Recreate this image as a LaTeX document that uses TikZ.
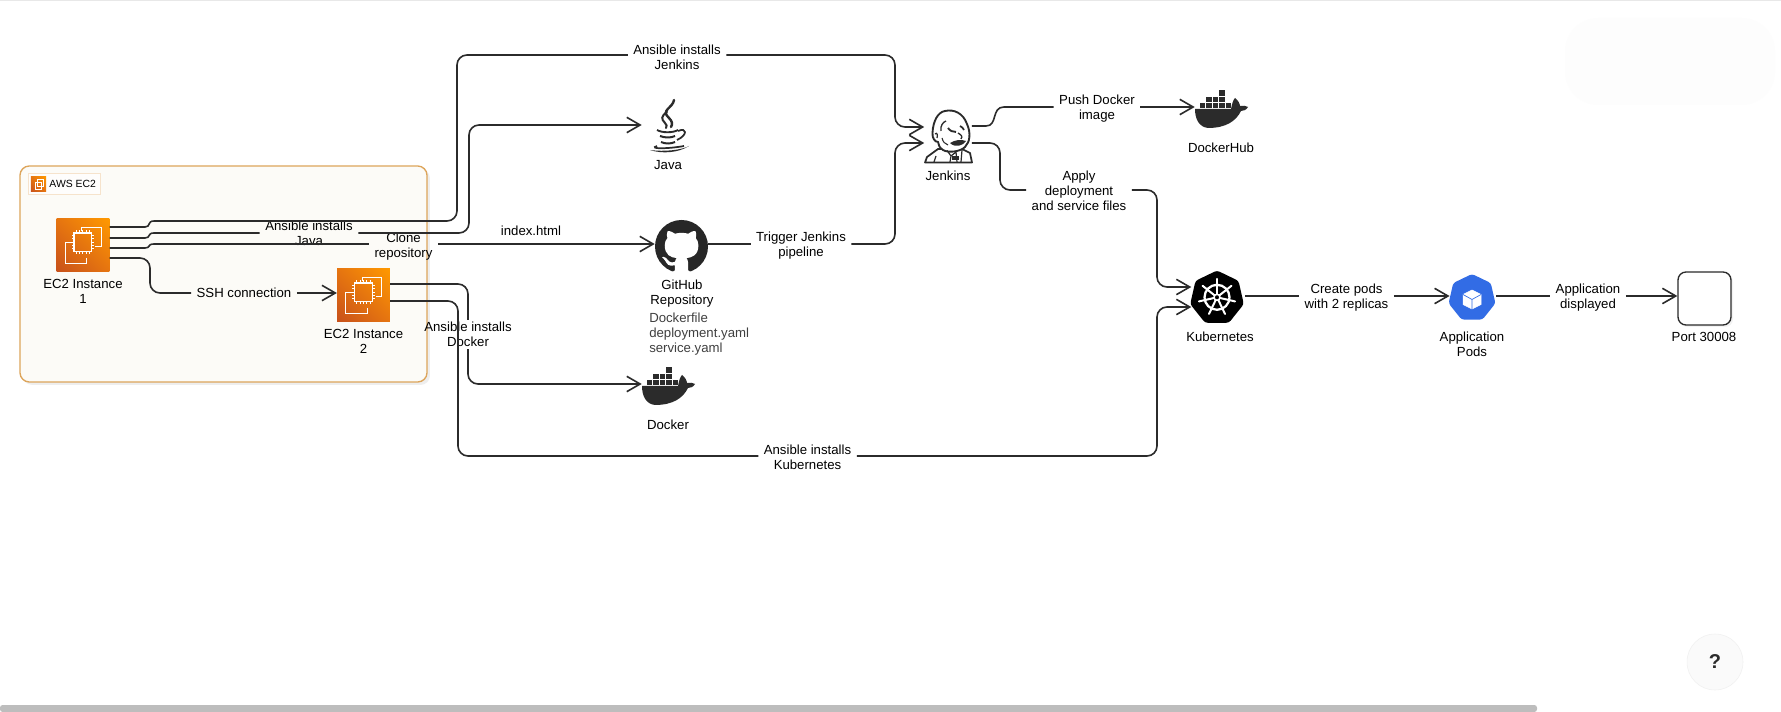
\documentclass[tikz,border=0pt]{standalone}
\usepackage{fontspec}
\setmainfont{Liberation Sans}
\usepackage{tikz}
\usetikzlibrary{arrows.meta,shadows,shadings,shapes.geometric}
\definecolor{awsdark}{HTML}{C8511B}
\definecolor{awslight}{HTML}{FF9900}
\definecolor{awsmid}{HTML}{E67510}
\definecolor{groupline}{HTML}{DDA55B}
\definecolor{groupfill}{HTML}{FCFBF7}
\definecolor{tagline}{HTML}{F6E3CC}
\definecolor{inkdark}{HTML}{2B2B2B}
\definecolor{podblue}{HTML}{326CE5}
\definecolor{scrollgrey}{HTML}{BDBDBD}
\tikzset{
  txt/.style={ inner sep=0, align=center, font=\fontsize{9.9}{11.25}\selectfont }
}
\tikzset{
  lbl/.style={ txt, inner xsep=4pt, inner ysep=1.5pt }
}
\tikzset{
  conn/.style={ draw=inkdark, line width=1.2pt, rounded corners=7.5pt }
}
\tikzset{
  jogconn/.style={ draw=inkdark, line width=1.2pt, sharp corners }
}
\tikzset{
  arrowconn/.style={ conn, -{Straight Barb[length=10pt,width=11.5pt,line width=1.2pt]} }
}
\tikzset{
  ec2box/.style={ inner sep=0, minimum size=39.5pt, shade, lower left=awsdark, upper right=awslight, lower right=awsmid, upper left=awsmid }
}
\tikzset{
  iconbox/.style={ inner sep=0, minimum size=39pt }
}
\tikzset{
  ec2icon/.pic={
    \draw[white, line width=.7pt] (-1.3,-13.5) -- (-1.3,-18) -- (18,-18) -- (18,1.3) -- (12,1.3);
    \draw[white, line width=.7pt] (-11,-3) -- (-18,-3) -- (-18,18) -- (3.7,18) -- (3.7,13);
    \draw[white, line width=.9pt] (-9,-12) rectangle (8.7,6.3);
    \foreach \p [evaluate=\p as \q using \p-2.85] in {-7,-3.6,-0.2,3.2,6.6} {
      \draw[white, line width=.5pt] (\p,-12) -- (\p,-14.5) (\p,6.3) -- (\p,8.8);
      \draw[white, line width=.5pt] (-9,\q) -- (-11.5,\q) (8.7,\q) -- (11.2,\q);
    }
  }
}
\tikzset{
  whaleicon/.pic={
    \fill[inkdark] (-26,2) -- (10,2) .. controls (11,-3) and (12,-7) .. (14,-9)
      .. controls (17,-7) and (19,-3) .. (19,-1) .. controls (22,-2) and (25,-1) .. (27,0)
      .. controls (25,3) and (23,4) .. (20,4) .. controls (15,14) and (5,21) .. (-13,21)
      .. controls (-22,20) and (-26,12) .. (-26,2) -- cycle;
    \foreach \xx in {-21,-14.6,-8.2,-1.8,4.6} { \fill[inkdark] (\xx,-4) rectangle ++(5.4,5); }
    \foreach \xx in {-14.6,-8.2,-1.8} { \fill[inkdark] (\xx,-10.4) rectangle ++(5.4,5.4); }
    \fill[inkdark] (-1.8,-16.8) rectangle ++(5.4,5.4);
  }
}
\tikzset{
  javaicon/.pic={
    \draw[inkdark, line width=1.8pt, line cap=round] (6,-25) .. controls (5,-17) and (-8,-15) .. (1,-7) .. controls (4,-4) and (5,-1) .. (3,2);
    \draw[inkdark, line width=1.5pt, line cap=round] (-1,-13) .. controls (-7,-9) and (-7,-6) .. (-3,-2) .. controls (-1,0) and (-1,1) .. (-2,3);
    \draw[inkdark, line width=1.4pt] (-11,5) .. controls (-6,8) and (5,8) .. (10,5);
    \draw[inkdark, line width=1.3pt] (10,6) .. controls (19,2) and (20,10) .. (9,15);
    \draw[inkdark, line width=1.5pt] (-8,11) .. controls (-3,13) and (3,13) .. (7,11);
    \draw[inkdark, line width=1.5pt] (-7,17) .. controls (-3,19) and (3,19) .. (7,17);
    \draw[inkdark, line width=1.3pt] (-11,21) .. controls (-20,24) and (0,24) .. (16,21);
    \fill[inkdark] (-18,25) .. controls (-6,29) and (10,28) .. (21,21) .. controls (14,25) and (-4,27) .. (-18,25) -- cycle;
  }
}
\tikzset{
  catmask/.pic={
    \begin{scope}[scale=3.3, shift={(-8,-8)}]
      \fill[white] (5.47,15.59) .. controls (5.87,15.66) and (6.02,15.42) .. (6.02,15.21)
        .. controls (6.02,15.02) and (6.01,14.39) .. (6.01,13.72)
        .. controls (4.0,14.09) and (3.48,13.23) .. (3.32,12.78)
        .. controls (3.23,12.55) and (2.84,11.84) .. (2.5,11.65)
        .. controls (2.22,11.5) and (1.82,11.13) .. (2.49,11.12)
        .. controls (3.12,11.11) and (3.57,11.7) .. (3.72,11.94)
        .. controls (4.44,13.15) and (5.59,12.81) .. (6.05,12.6)
        .. controls (6.12,12.08) and (6.33,11.73) .. (6.56,11.53)
        .. controls (4.78,11.33) and (2.92,10.64) .. (2.92,7.58)
        .. controls (2.92,6.71) and (3.23,5.99) .. (3.74,5.43)
        .. controls (3.66,5.23) and (3.38,4.41) .. (3.82,3.31)
        .. controls (3.82,3.31) and (4.49,3.10) .. (6.02,4.13)
        .. controls (6.66,3.95) and (7.34,3.86) .. (8.02,3.86)
        .. controls (8.7,3.86) and (9.38,3.95) .. (10.02,4.13)
        .. controls (11.55,3.09) and (12.22,3.31) .. (12.22,3.31)
        .. controls (12.66,4.41) and (12.38,5.23) .. (12.30,5.43)
        .. controls (12.81,5.99) and (13.12,6.7) .. (13.12,7.58)
        .. controls (13.12,10.65) and (11.25,11.33) .. (9.47,11.53)
        .. controls (9.76,11.78) and (10.01,12.26) .. (10.01,13.01)
        .. controls (10.01,14.08) and (10,14.94) .. (10,15.21)
        .. controls (10,15.42) and (10.15,15.67) .. (10.55,15.59)
        -- (10.55,16.2) -- (5.47,16.2) -- cycle;
    \end{scope}
  }
}
\tikzset{
  butlericon/.pic={
    % shoulders first, the head sits on top
    \filldraw[fill=white, draw=inkdark, line width=1.3pt, line join=round] (-10,13) -- (-21,21) -- (-23,26.5) -- (24,26.5) -- (22,17) -- (14,13) -- cycle;
    \filldraw[fill=white, draw=inkdark, line width=1.4pt] (-15.5,-3) .. controls (-15,-15) and (-10,-24) .. (-3,-25) .. controls (6,-27) and (15,-23) .. (19,-12)
      .. controls (23,-3) and (22,6) .. (17,11) .. controls (12,16) and (0,17) .. (-5,14) .. controls (-8,12) and (-10,9) .. (-10,6) .. controls (-13,6) and (-16,2) .. (-15.5,-3) -- cycle;
    \draw[inkdark, line width=.9pt] (-13,-2) .. controls (-11,-4) and (-10,-1) .. (-11,2);
    \draw[inkdark, line width=1pt] (-7,-5) .. controls (-8,-10) and (-5,-14) .. (-2,-15);
    \draw[inkdark, line width=1.4pt] (0,-8) .. controls (2,-5) and (5,-4) .. (8,-4);
    \draw[inkdark, line width=1.3pt] (12,-10) .. controls (14,-9) and (15,-8) .. (16,-6);
    \draw[inkdark, line width=1pt] (10,-3) .. controls (13,-1) and (15,0) .. (13,3);
    \draw[inkdark, line width=.8pt] (-6,2) .. controls (-5,6) and (-3,8) .. (0,9);
    \fill[inkdark] (2,7) .. controls (7,4) and (13,3) .. (18,5) .. controls (15,10) and (7,12) .. (2,7) -- cycle;
    \draw[inkdark, line width=.9pt] (-1,14.5) -- (3,20) -- (8,16) -- (9,26) (3,20) -- (2,26);
    \filldraw[fill=inkdark, draw=inkdark] (4,20) rectangle (10,23);
    \draw[inkdark, line width=.9pt] (14,14) -- (13,26);
    \draw[inkdark, line width=.9pt] (-14,26) -- (-12,20);
  }
}
\tikzset{
  wheelicon/.pic={
    \draw[white, line width=1.7pt] (0,0) circle (12.5);
    \draw[white, line width=1.1pt] (0,0) circle (3);
    \foreach \a in {0,...,6} {
      \draw[white, line width=1.5pt, line cap=round] (-90+\a*51.43:3) -- (-90+\a*51.43:18.5);
    }
  }
}
\tikzset{
  cubeicon/.pic={
    \filldraw[fill=white, draw=white, line join=round] (0,-9.5) -- (9,-5) -- (9,5) -- (0,9.5) -- (-9,5) -- (-9,-5) -- cycle;
    \draw[podblue, line width=.5pt] (-9,-5) -- (0,0) -- (9,-5) (0,0) -- (0,9.5);
  }
}
\begin{document}
\begin{tikzpicture}[x=0.75pt, y=-0.75pt]
  \path[fill=white, use as bounding box] (0,0) rectangle (1781,712);
  \fill[black!9] (0,0) rectangle (1781,1.2);
  \fill[black!0.6, rounded corners=25pt] (1565,18) rectangle (1775,105);

  \node[minimum width=305.25pt, minimum height=162pt, rounded corners=7pt, draw=groupline, line width=1pt, fill=groupfill, drop shadow={shadow xshift=2.2pt, shadow yshift=-2.2pt, opacity=.13}] (ec2group) at (223.5,274) {};
  \node[minimum width=54pt, minimum height=15.75pt, inner sep=0, draw=tagline, fill=white!60!groupfill, line width=.7pt] (awstag) at (64,183.5) {};
  \node[ec2box, minimum size=11.6pt] (awsicon) at (38.5,184) {};
  \draw[white, line width=.4pt] (35,182) rectangle (41,189);
  \draw[white, line width=.4pt] (37,179) rectangle (43,186);
  \node[txt, font=\fontsize{7.8}{9}\selectfont] (awstext) at (72.7,184) {AWS EC2};

  \node[ec2box] (ec2a) at (83,245) {};
  \pic at (ec2a) {ec2icon};
  \node[txt] (ec2aname) at (83,291.5) {EC2 Instance\\1};
  \node[ec2box] (ec2b) at (363.5,295) {};
  \pic at (ec2b) {ec2icon};
  \node[txt] (ec2bname) at (363.5,341.5) {EC2 Instance\\2};

  \node[iconbox] (java) at (668,125) {};
  \pic at (java) {javaicon};
  \node[txt] (javaname) at (668,165) {Java};
  \node[circle, inner sep=0, minimum size=39.75pt, fill=inkdark!90!black] (github) at (681.5,246.5) {};
  \pic at (github) {catmask};
  \node[txt] (githubname) at (682,293.5) {GitHub\\Repository};
  \node[txt, align=left, text=black!75, anchor=west] (repofiles) at (649,334) {Dockerfile\\deployment.yaml\\service.yaml};
  \node[iconbox] (docker) at (668,384) {};
  \pic at (docker) {whaleicon};
  \node[txt] (dockername) at (668,425) {Docker};

  \node[iconbox, minimum width=35.25pt, minimum height=39.75pt] (jenkins) at (948,136) {};
  \pic at (jenkins) {butlericon};
  \node[txt] (jenkinsname) at (948,176) {Jenkins};
  \node[iconbox] (hub) at (1221,107) {};
  \pic at (hub) {whaleicon};
  \node[txt] (hubname) at (1221,148) {DockerHub};

  \node[regular polygon, regular polygon sides=7, inner sep=0, minimum size=41.25pt, fill=black, rounded corners=2pt] (k8s) at (1217,298) {};
  \pic at (1217,297.3) {wheelicon};
  \node[txt] (k8sname) at (1220,337) {Kubernetes};
  \node[regular polygon, regular polygon sides=7, inner sep=0, minimum size=36pt, fill=podblue, rounded corners=2pt] (pods) at (1472,298) {};
  \pic at (1472,299.5) {cubeicon};
  \node[txt] (podsname) at (1472,344.5) {Application\\Pods};
  \node[minimum size=39.75pt, inner sep=0, rounded corners=6pt, draw=inkdark, line width=1pt, fill=white, drop shadow={shadow xshift=1.5pt, shadow yshift=-1.5pt, opacity=.1}] (port) at (1704.5,298.5) {};
  \node[txt] (portname) at (1704,337) {Port 30008};

  % edge labels, the connectors stop at their sides
  \node[lbl] (lbljenkins) at (677,57) {Ansible installs\\Jenkins};
  \node[lbl] (lbljava) at (309,233.5) {Ansible installs\\Java};
  \node[lbl] (lblclone) at (403.5,246.5) {Clone\\repository};
  \node[txt] (lblindex) at (531,231) {index.html};
  \node[lbl] (lblssh) at (244,293) {SSH connection};
  \node[lbl] (lbldocker) at (468,334.5) {Ansible installs\\Docker};
  \node[lbl] (lblkube) at (807.5,457.5) {Ansible installs\\Kubernetes};
  \node[lbl] (lbltrigger) at (801,245.5) {Trigger Jenkins\\pipeline};
  \node[lbl] (lblpush) at (1097,108.5) {Push Docker\\image};
  \node[lbl] (lblapply) at (1079,190.5) {Apply\\deployment\\and service files};
  \node[lbl] (lblpods) at (1346.5,298) {Create pods\\with 2 replicas};
  \node[lbl] (lblshown) at (1588,298) {Application\\displayed};

  \draw[jogconn] ([yshift=13.5pt]ec2a.east) -- (145,227) .. controls (151,227) and (147,221) .. (154,221) -- (160,221) [rounded corners=7.5pt] -- (457,221) -- (457,55) -- (lbljenkins.west |- 0,55);
  \draw[arrowconn] (lbljenkins.east |- 0,55) -- (895,55) -- (895,127) -- ([yshift=6.75pt]jenkins.west);

  \draw[jogconn] ([yshift=5.25pt]ec2a.east) -- (145,238) .. controls (151,238) and (147,233) .. (154,233) -- (lbljava.west |- 0,233);
  \draw[arrowconn] (lbljava.east |- 0,233) -- (469,233) -- (469,125) -- (java.west);

  \draw[jogconn] ([yshift=-2.25pt]ec2a.east) -- (145,248) .. controls (151,248) and (147,244) .. (154,244) -- (lblclone.west |- 0,244);
  \draw[arrowconn] (lblclone.east |- 0,244) -- (github.west |- 0,244);

  \draw[conn] ([yshift=-9.75pt]ec2a.east) -- (150,258) -- (150,293) -- (lblssh.west);
  \draw[arrowconn] (lblssh.east) -- (ec2b.west |- 0,293);

  \draw[conn] ([yshift=8.25pt]ec2b.east) -- (468,284) -- (lbldocker.north);
  \draw[arrowconn] (lbldocker.south) -- (468,384) -- (docker.west);

  \draw[conn] ([yshift=-4.5pt]ec2b.east) -- (458,301) -- (458,456) -- (lblkube.west |- 0,456);
  \draw[arrowconn] (lblkube.east |- 0,456) -- (1157,456) -- (1157,307) -- (k8s.west |- 0,307);

  \draw[conn] (github.east |- 0,244) -- (lbltrigger.west |- 0,244);
  \draw[arrowconn] (lbltrigger.east |- 0,244) -- (895,244) -- (895,143) -- ([yshift=-5.25pt]jenkins.west);

  \draw[jogconn] ([yshift=7.5pt]jenkins.east) -- (986,126) .. controls (998,126) and (991,107) .. (1004,107) -- (lblpush.west |- 0,107);
  \draw[arrowconn] (lblpush.east |- 0,107) -- (hub.west);

  \draw[conn] ([yshift=-5.25pt]jenkins.east) -- (1000,143) -- (1000,190) -- (lblapply.west |- 0,190);
  \draw[arrowconn] (lblapply.east |- 0,190) -- (1157,190) -- (1157,287) -- (k8s.west |- 0,287);

  \draw[conn] ([xshift=2pt,yshift=1.5pt]k8s.east) -- (lblpods.west |- 0,296);
  \draw[arrowconn] (lblpods.east |- 0,296) -- (pods.west |- 0,296);
  \draw[conn] ([xshift=1.5pt,yshift=1.5pt]pods.east) -- (lblshown.west |- 0,296);
  \draw[arrowconn] (lblshown.east |- 0,296) -- (port.west |- 0,296);

  \node[circle, minimum size=42pt, inner sep=0, draw=black!6, fill=black!2, font=\bfseries\fontsize{15}{15}\selectfont, text=inkdark] (help) at (1715,662) {?};
  \fill[scrollgrey, rounded corners=2pt] (0,705) rectangle (1537,712);
\end{tikzpicture}
\end{document}
